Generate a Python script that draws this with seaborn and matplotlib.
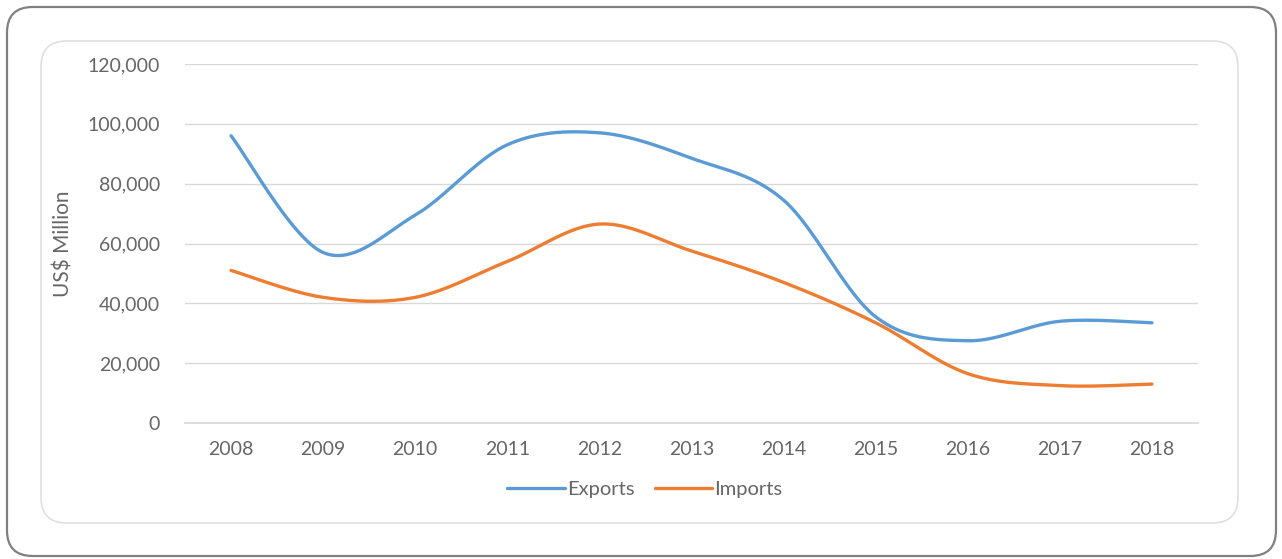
import numpy as np
import pandas as pd
import matplotlib
matplotlib.use("Agg")
import matplotlib.pyplot as plt
from matplotlib.patches import FancyBboxPatch
from matplotlib.ticker import FuncFormatter
from matplotlib.lines import Line2D
import seaborn as sns

years = ["2008", "2009", "2010", "2011", "2012", "2013", "2014", "2015", "2016", "2017", "2018"]
exports = [96000, 57000, 69500, 93000, 97000, 88500, 74500, 35500, 27500, 34000, 33500]
imports = [51000, 42000, 42000, 54000, 66500, 57500, 47000, 33500, 16500, 12500, 13000]
y_ticks = [0, 20000, 40000, 60000, 80000, 100000, 120000]


def smooth(xs, ys, n=40):
    # Excel-like smoothed line: cubic Bezier segments with Catmull-Rom control points
    xs = np.asarray(xs, float)
    ys = np.asarray(ys, float)
    px = np.concatenate([[xs[0]], xs, [xs[-1]]])
    py = np.concatenate([[ys[0]], ys, [ys[-1]]])
    ox, oy = [], []
    t = np.linspace(0, 1, n, endpoint=False)
    for i in range(1, len(px) - 2):
        p0 = np.array([px[i], py[i]])
        p3 = np.array([px[i + 1], py[i + 1]])
        c1 = p0 + (np.array([px[i + 1], py[i + 1]]) - np.array([px[i - 1], py[i - 1]])) / 6.0
        c2 = p3 - (np.array([px[i + 2], py[i + 2]]) - np.array([px[i], py[i]])) / 6.0
        b = ((1 - t) ** 3)[:, None] * p0 + (3 * (1 - t) ** 2 * t)[:, None] * c1 \
            + (3 * (1 - t) * t ** 2)[:, None] * c2 + (t ** 3)[:, None] * p3
        ox.extend(b[:, 0])
        oy.extend(b[:, 1])
    ox.append(xs[-1])
    oy.append(ys[-1])
    return np.array(ox), np.array(oy)


xpos = np.arange(len(years))
frames = []
for name, vals in [("Exports", exports), ("Imports", imports)]:
    sx, sy = smooth(xpos, vals)
    frames.append(pd.DataFrame({"x": sx, "y": sy, "series": name}))
df = pd.concat(frames, ignore_index=True)

sns.set_theme(style="white")
plt.rcParams["font.family"] = ["Lato", "DejaVu Sans"]

W, H = 1282, 559
fig = plt.figure(figsize=(W / 100, H / 100), dpi=100)
fig.patch.set_facecolor("white")

text_col = "#666666"

# outer and inner rounded frames
outer = FancyBboxPatch((7 / W, 3 / H), 1269 / W, 549 / H,
                       boxstyle="round,pad=0,rounding_size=0.02",
                       transform=fig.transFigure, fill=False,
                       edgecolor="#808080", linewidth=1.6, mutation_aspect=W / H)
inner = FancyBboxPatch((41 / W, 36 / H), 1197 / W, 482 / H,
                       boxstyle="round,pad=0,rounding_size=0.02",
                       transform=fig.transFigure, fill=False,
                       edgecolor="#e0e0e0", linewidth=1.2, mutation_aspect=W / H)
fig.patches.extend([outer, inner])

ax = fig.add_axes([185 / W, 1 - 423 / H, (1198 - 185) / W, (423 - 64) / H])
ax.set_facecolor("none")

palette = {"Exports": "#5B9BD5", "Imports": "#ED7D31"}
sns.lineplot(data=df, x="x", y="y", hue="series", palette=palette,
             linewidth=2.4, ax=ax, sort=False, estimator=None, legend=False)

ax.set_xlim(-0.5, 10.5)
ax.set_ylim(0, 120000)
ax.set_yticks(y_ticks)
ax.yaxis.set_major_formatter(FuncFormatter(lambda v, p: f"{int(v):,}"))
ax.set_xticks(xpos)
ax.set_xticklabels(years)
ax.grid(axis="y", color="#d9d9d9", linewidth=1)
ax.grid(axis="x", visible=False)
for s in ["top", "right", "left"]:
    ax.spines[s].set_visible(False)
ax.spines["bottom"].set_color("#d9d9d9")
ax.tick_params(axis="both", length=0, labelsize=14, labelcolor=text_col)
ax.tick_params(axis="x", pad=13)
ax.tick_params(axis="y", pad=18)
ax.set_xlabel("")
ax.set_ylabel("US$ Million", fontsize=15, color=text_col)
ax.yaxis.set_label_coords((74 - 185) / 1013, 0.5)

handles = [Line2D([0], [0], color=palette["Exports"], lw=2.4),
           Line2D([0], [0], color=palette["Imports"], lw=2.4)]
fig.legend(handles, ["Exports", "Imports"], loc="center", bbox_to_anchor=(0.503, 1 - 489 / H),
           ncol=2, frameon=False, fontsize=14.5, labelcolor=text_col,
           handlelength=2.85, handletextpad=0.12, columnspacing=1.0)

fig.savefig("out.png", dpi=100, facecolor="white")
